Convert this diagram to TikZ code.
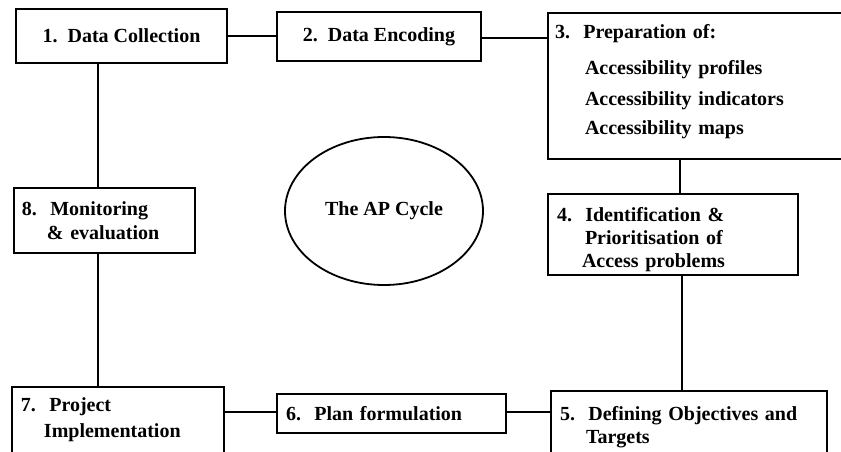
\documentclass[tikz,border=0pt]{standalone}
\usepackage{fontspec}
\setmainfont{Liberation Serif}
\usepackage{tikz}
\usetikzlibrary{shapes}
\usetikzlibrary{positioning}
\tikzset{
    stage/.style={
           rectangle,
           draw=black, line width=2pt,
           inner ysep=3pt,
           align=left,
           font=\fontsize{20pt}{23pt}\selectfont\bfseries,
           },
    hub/.style={
           ellipse,
           draw=black, line width=1.8pt,
           font=\fontsize{20pt}{23pt}\selectfont\bfseries,
           },
    link/.style={
           -,
           line width=2pt,}
}
\begin{document}
\begin{tikzpicture}
\useasboundingbox (-121.5pt,36pt) rectangle (719.5pt,-416pt);
% THE AP CYCLE
% Position of Data collection (COLLECT)
\node[stage, align=center,
minimum width = 211pt,
minimum height = 54pt] (COLLECT)
{1.~~Data Collection};
% Position of Data encoding (ENCODE)
\node[stage, align=center,
minimum width = 204pt,
minimum height = 49pt,
right of = COLLECT,
node distance = 257.5pt,
yshift = -0.5pt] (ENCODE)
{2.~~Data Encoding};
% Position of Preparation (PREP)
\node[stage,
text width = 298pt, inner xsep = 7pt,
minimum height = 146pt,
right of = ENCODE,
node distance = 325pt,
yshift = -49.5pt] (PREP)
{3.~~Preparation of:\\[13.5pt]
\hspace*{30pt}Accessibility profiles\\[7.5pt]
\hspace*{30pt}Accessibility indicators\\[6.5pt]
\hspace*{30pt}Accessibility maps\rule[-12.7pt]{0pt}{12.7pt}
};
% Position of Access problems (PROBLEMS)
\node[stage,
text width = 232pt, inner xsep = 9pt,
minimum height = 79pt,
below of = PREP,
node distance = 148.5pt,
xshift = -31pt] (PROBLEMS)
{\rule{0pt}{24pt}4.~~Identification \&\\
\hspace*{28pt}Prioritisation of\\
\hspace*{25pt}Access problems
};
% Position of Objectives (OBJECTIVES)
\node[stage,
text width = 258pt, inner xsep = 9pt,
minimum height = 67pt,
below of = PROBLEMS,
node distance = 190pt,
xshift = 16pt] (OBJECTIVES)
{\rule{0pt}{20pt}5.~~Defining Objectives and\\
\hspace*{26pt}Targets
};
% Position of Plan formulation (PLAN)
\node[stage,
text width = 211pt, inner xsep = 9pt,
minimum height = 39pt,
left of = OBJECTIVES,
node distance = 297.5pt,
yshift = 11pt] (PLAN)
{6.~~Plan formulation};
% Position of Project implementation (IMPLEMENT)
\node[stage,
text width = 194pt, inner xsep = 9pt,
minimum height = 83pt,
left of = PLAN,
node distance = 273.5pt,
yshift = -15pt] (IMPLEMENT)
{7.~~Project\\[3pt]
\hspace*{23pt}Implementation\rule[-22.8pt]{0pt}{22.8pt}
};
% Position of Monitoring (MONITOR)
\node[stage,
text width = 165pt, inner xsep = 8pt,
minimum height = 65pt,
below of = COLLECT,
node distance = 184.5pt,
xshift = -17pt] (MONITOR)
{8.~~Monitoring\\[1pt]
\hspace*{25pt}\& evaluation
};
% Position of the cycle (CYCLE)
\node[hub,
minimum width = 198pt,
minimum height = 148pt,
right of = MONITOR,
node distance = 279.5pt,
yshift = 9.5pt] (CYCLE)
{The AP Cycle};
% Draw lines on graph
\path (COLLECT.east) edge[link] (COLLECT.east -| ENCODE.west);
\path ([yshift=-1.5pt]ENCODE.east) edge[link] ([yshift=-1.5pt]ENCODE.east -| PREP.west);
\path ([xshift=7pt]PROBLEMS.north) edge[link] ([xshift=7pt]PROBLEMS.north |- PREP.south);
\path ([xshift=9pt]PROBLEMS.south) edge[link] ([xshift=9pt]PROBLEMS.south |- OBJECTIVES.north);
\path ([yshift=1.5pt]PLAN.east) edge[link] ([yshift=1.5pt]PLAN.east -| OBJECTIVES.west);
\path ([yshift=1.5pt]PLAN.west) edge[link] ([yshift=1.5pt]PLAN.west -| IMPLEMENT.east);
\path ([xshift=-6.5pt]MONITOR.north) edge[link] ([xshift=-6.5pt]MONITOR.north |- COLLECT.south);
\path ([xshift=-6.5pt]MONITOR.south) edge[link] ([xshift=-6.5pt]MONITOR.south |- IMPLEMENT.north);
\end{tikzpicture}
\end{document}
